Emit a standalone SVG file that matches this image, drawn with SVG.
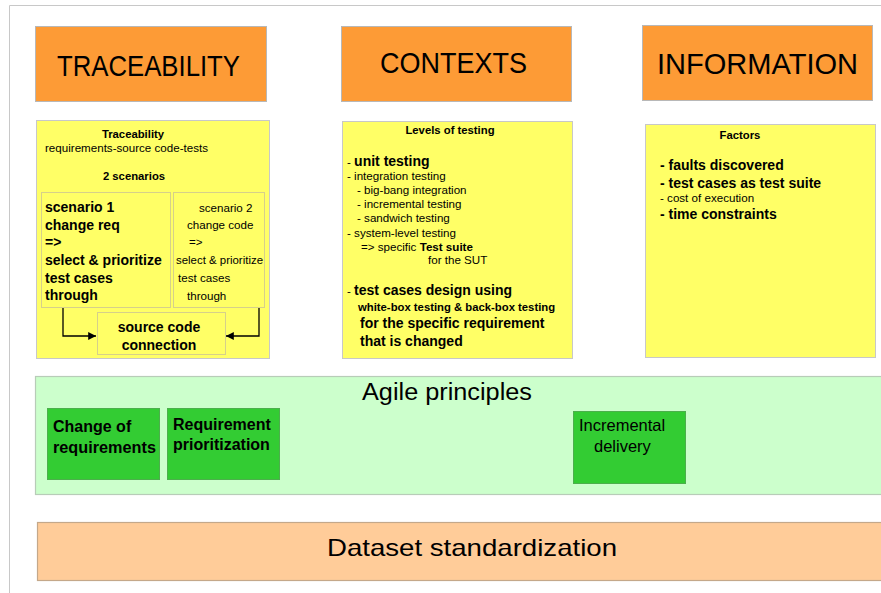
<svg xmlns="http://www.w3.org/2000/svg" width="881" height="593" viewBox="0 0 881 593">
  <style>
    text { font-family: "Liberation Sans", Arial, sans-serif; fill: #000; }
    .hdr { fill: #fd9b36; stroke: #b8b8b8; stroke-width: 1; }
    .note { fill: #ffff66; stroke: #c8c8c8; stroke-width: 1; }
    .inner { fill: #ffff66; stroke: #d6d08a; stroke-width: 1; }
    .band { fill: #ccffcc; stroke: #b8ccb8; stroke-width: 1.2; }
    .chip { fill: #33cc33; stroke: #4caf4c; stroke-width: 1; }
    .base { fill: #ffcc99; stroke: #c4a88a; stroke-width: 1.2; }
    .title { font-size: 30px; }
    .s { font-size: 11.6px; }
    .sb { font-size: 11.3px; font-weight: bold; }
    .m { font-size: 14px; font-weight: bold; }
    .chipb { font-size: 16px; font-weight: bold; }
    .chipn { font-size: 16.5px; }
    .conn { fill: none; stroke: #000; stroke-width: 1.3; }
  </style>
  <defs>
    <marker id="arrow" viewBox="0 0 10 10" refX="10" refY="5" markerWidth="6" markerHeight="6" orient="auto">
      <path d="M0,0 L10,5 L0,10 z" fill="#000"/>
    </marker>
  </defs>

  <rect width="881" height="593" fill="#fff"/>
  <!-- page frame -->
  <path d="M9.5,593 V5.5 H881" fill="none" stroke="#c8c8c8" stroke-width="1"/>

  <!-- header cards -->
  <g id="traceability-header">
    <rect class="hdr" x="35.5" y="26.5" width="231" height="75"/>
    <text class="title" x="57" y="76" textLength="183" lengthAdjust="spacingAndGlyphs">TRACEABILITY</text>
  </g>
  <g id="contexts-header">
    <rect class="hdr" x="341.5" y="26.5" width="230" height="75"/>
    <text class="title" x="380" y="73" textLength="147" lengthAdjust="spacingAndGlyphs">CONTEXTS</text>
  </g>
  <g id="information-header">
    <rect class="hdr" x="642.5" y="25.5" width="230" height="75"/>
    <text class="title" x="657" y="74" textLength="201" lengthAdjust="spacingAndGlyphs">INFORMATION</text>
  </g>

  <!-- traceability note -->
  <g id="traceability-note">
    <rect class="note" x="36.5" y="120.5" width="233" height="238"/>
    <text class="sb" x="133" y="138" text-anchor="middle">Traceability</text>
    <text class="s" x="45" y="152">requirements-source code-tests</text>
    <text class="sb" x="134" y="180" text-anchor="middle">2 scenarios</text>
  </g>
  <g id="scenario-1">
    <rect class="inner" x="41.5" y="192.5" width="129" height="115"/>
    <text class="m" x="45" y="212">scenario 1</text>
    <text class="m" x="45" y="230">change req</text>
    <text class="m" x="45" y="247">=&gt;</text>
    <text class="m" x="45" y="265">select &amp; prioritize</text>
    <text class="m" x="45" y="283">test cases</text>
    <text class="m" x="45" y="300">through</text>
  </g>
  <g id="scenario-2">
    <rect class="inner" x="173.5" y="192.5" width="91" height="115"/>
    <text class="s" x="199" y="212">scenario 2</text>
    <text class="s" x="187" y="229">change code</text>
    <text class="s" x="189" y="246">=&gt;</text>
    <text class="s" x="176" y="264" textLength="87" lengthAdjust="spacingAndGlyphs">select &amp; prioritize</text>
    <text class="s" x="178" y="282">test cases</text>
    <text class="s" x="187" y="300">through</text>
  </g>
  <g id="source-code-connection">
    <rect class="inner" x="97.5" y="312.5" width="128" height="42"/>
    <text class="m" x="159" y="332" text-anchor="middle">source code</text>
    <text class="m" x="159" y="350" text-anchor="middle">connection</text>
  </g>

  <!-- contexts note -->
  <g id="contexts-note">
    <rect class="note" x="342.5" y="121.5" width="230" height="237"/>
    <text class="sb" x="450" y="134" text-anchor="middle">Levels of testing</text>
    <text x="347" y="166"><tspan class="s">- </tspan><tspan class="m">unit testing</tspan></text>
    <text class="s" x="347" y="180">- integration testing</text>
    <text class="s" x="357" y="194">- big-bang integration</text>
    <text class="s" x="357" y="208">- incremental testing</text>
    <text class="s" x="357" y="222">- sandwich testing</text>
    <text class="s" x="347" y="237">- system-level testing</text>
    <text class="s" x="361" y="251">=&gt; specific <tspan font-weight="bold">Test suite</tspan></text>
    <text class="s" x="428" y="264">for the SUT</text>
    <text x="347" y="295"><tspan class="s">- </tspan><tspan class="m">test cases design using</tspan></text>
    <text class="sb" x="358" y="311">white-box testing &amp; back-box testing</text>
    <text class="m" x="360" y="328">for the specific requirement</text>
    <text class="m" x="360" y="346">that is changed</text>
  </g>

  <!-- information note -->
  <g id="information-note">
    <rect class="note" x="645.5" y="124.5" width="230" height="233"/>
    <text class="sb" x="740" y="139" text-anchor="middle">Factors</text>
    <text class="m" x="660" y="170">- faults discovered</text>
    <text class="m" x="660" y="188">- test cases as test suite</text>
    <text class="s" x="660" y="202">- cost of execution</text>
    <text class="m" x="660" y="219">- time constraints</text>
  </g>

  <!-- agile band -->
  <g id="agile-principles">
    <rect class="band" x="35.5" y="376.5" width="850" height="118"/>
    <text x="447" y="400" font-size="23" text-anchor="middle" textLength="170" lengthAdjust="spacingAndGlyphs">Agile principles</text>
  </g>
  <g id="change-of-requirements">
    <rect class="chip" x="47.5" y="408.5" width="112" height="71"/>
    <text class="chipb" x="53" y="432">Change of</text>
    <text class="chipb" x="53" y="453" textLength="103" lengthAdjust="spacingAndGlyphs">requirements</text>
  </g>
  <g id="requirement-prioritization">
    <rect class="chip" x="167.5" y="408.5" width="112" height="71"/>
    <text class="chipb" x="173" y="430">Requirement</text>
    <text class="chipb" x="173" y="450">prioritization</text>
  </g>
  <g id="incremental-delivery">
    <rect class="chip" x="573.5" y="411.5" width="112" height="72"/>
    <text class="chipn" x="579" y="431">Incremental</text>
    <text class="chipn" x="594" y="452">delivery</text>
  </g>

  <!-- dataset band -->
  <g id="dataset-standardization">
    <rect class="base" x="37.5" y="522.5" width="850" height="58"/>
    <text x="472" y="556" font-size="24" text-anchor="middle" textLength="290" lengthAdjust="spacingAndGlyphs">Dataset standardization</text>
  </g>

  <!-- connectors -->
  <g id="connectors">
    <path class="conn" d="M63,308 V336 H96" marker-end="url(#arrow)"/>
    <path class="conn" d="M259,308 V336 H226" marker-end="url(#arrow)"/>
  </g>
</svg>
